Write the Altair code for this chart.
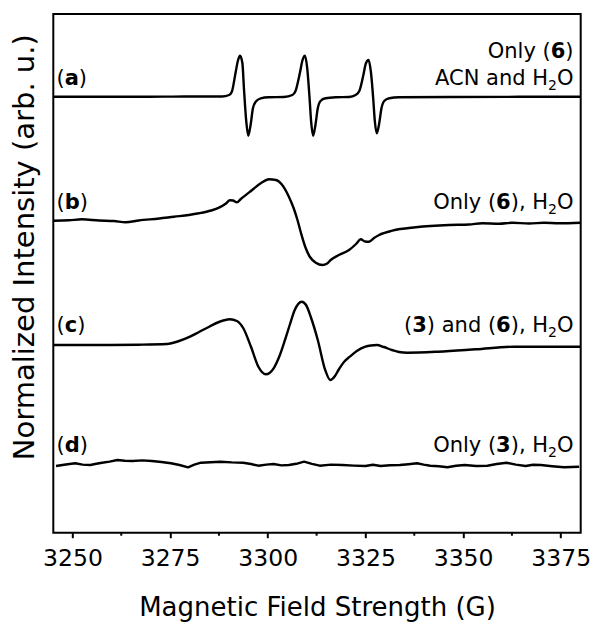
import altair as alt
import pandas as pd

# ---------------- data ----------------
# Magnetic field (G) and normalized signal (arb. u., relative to each trace baseline)
FIELD_A = [3245.1, 3269.6, 3282.4, 3288.3, 3290.1, 3290.8, 3291.8, 3292.4, 3292.9, 3293.5,
           3293.9, 3294.5, 3295.0, 3295.6, 3296.2, 3296.9, 3298.2, 3300.3, 3304.1, 3306.3,
           3307.1, 3308.2, 3308.9, 3309.5, 3310.1, 3310.7, 3311.1, 3311.6, 3312.2, 3312.8,
           3313.5, 3314.8, 3317.4, 3320.8, 3322.5, 3323.4, 3324.5, 3325.1, 3325.8, 3326.4,
           3327.0, 3327.4, 3327.9, 3328.5, 3329.1, 3329.8, 3331.1, 3333.6, 3346.4, 3364.3, 3380.1]
SIGNAL_A = [0.0, 0.0, 0.002, 0.002, 0.017, 0.05, 0.25, 0.367, 0.41, 0.337,
            0.084, -0.25, -0.39, -0.283, -0.116, -0.05, -0.016, -0.006, -0.003, 0.017,
            0.057, 0.234, 0.367, 0.41, 0.284, -0.016, -0.25, -0.39, -0.283, -0.116,
            -0.043, -0.016, -0.006, -0.003, 0.017, 0.054, 0.222, 0.332, 0.367, 0.247,
            -0.023, -0.243, -0.366, -0.273, -0.116, -0.043, -0.016, -0.006, -0.003, -0.001, -0.001]

FIELD_B = [3245.1, 3249.1, 3252.4, 3256.8, 3260.6, 3263.6, 3267.0, 3272.2, 3276.0, 3279.8,
           3282.4, 3285.5, 3287.5, 3289.3, 3290.3, 3291.1, 3292.1, 3293.1, 3296.0, 3298.3,
           3300.3, 3302.1, 3303.6, 3305.4, 3306.7, 3307.6, 3308.5, 3309.7, 3310.8, 3312.3,
           3314.0, 3315.2, 3316.1, 3318.2, 3320.8, 3322.6, 3323.8, 3324.9, 3325.9, 3327.2,
           3328.5, 3331.9, 3337.9, 3346.4, 3351.5, 3354.9, 3359.2, 3362.6, 3366.9, 3370.7,
           3374.5, 3380.1]
SIGNAL_B = [0.0, 0.004, 0.014, 0.002, -0.003, -0.016, 0.002, 0.022, 0.04, 0.057,
            0.074, 0.102, 0.13, 0.172, 0.204, 0.202, 0.184, 0.217, 0.307, 0.377,
            0.414, 0.407, 0.362, 0.24, 0.117, 0.007, -0.123, -0.273, -0.363, -0.42,
            -0.443, -0.428, -0.393, -0.343, -0.293, -0.233, -0.186, -0.208, -0.21, -0.173,
            -0.143, -0.1, -0.066, -0.043, -0.038, -0.026, -0.031, -0.021, -0.028, -0.02,
            -0.026, -0.021]

FIELD_C = [3245.1, 3256.8, 3267.0, 3274.2, 3277.3, 3280.1, 3282.4, 3285.0, 3287.5, 3290.3,
           3292.1, 3293.7, 3295.7, 3297.6, 3299.5, 3301.5, 3302.9, 3304.4, 3305.7, 3306.9,
           3308.7, 3309.8, 3311.1, 3312.8, 3314.7, 3316.0, 3317.2, 3318.1, 3319.5, 3321.0,
           3322.8, 3325.0, 3326.4, 3327.9, 3329.7, 3331.8, 3333.6, 3335.7, 3343.6, 3353.3,
           3363.0, 3380.1]
SIGNAL_C = [0.0, 0.0, 0.003, 0.01, 0.04, 0.083, 0.13, 0.183, 0.23, 0.257,
            0.24, 0.17, -0.017, -0.217, -0.293, -0.233, -0.12, 0.05, 0.21, 0.35,
            0.433, 0.40, 0.27, 0.05, -0.25, -0.35, -0.31, -0.25, -0.17, -0.117,
            -0.06, -0.017, -0.005, 0.0, -0.02, -0.05, -0.07, -0.077, -0.067, -0.043,
            -0.017, -0.017]

FIELD_D = [3245.8, 3248.3, 3250.7, 3252.6, 3254.6, 3256.1, 3257.6, 3259.5, 3261.5, 3263.4,
           3265.4, 3267.9, 3270.3, 3272.8, 3275.2, 3277.4, 3279.6, 3281.2, 3282.9, 3285.4,
           3287.9, 3290.8, 3293.7, 3295.7, 3297.6, 3299.6, 3301.5, 3303.5, 3305.4, 3307.3,
           3309.3, 3311.3, 3313.3, 3316.2, 3319.1, 3322.0, 3325.0, 3326.9, 3328.9, 3331.3,
           3333.8, 3336.0, 3338.2, 3339.9, 3341.6, 3343.8, 3346.0, 3348.2, 3350.4, 3353.3,
           3356.2, 3358.6, 3361.1, 3363.5, 3366.0, 3367.9, 3369.9, 3372.8, 3375.8, 3379.7]
SIGNAL_D = [-0.01, 0.005, 0.017, 0.004, 0.0, 0.012, 0.023, 0.034, 0.05, 0.043,
            0.04, 0.046, 0.04, 0.03, 0.017, 0.0, -0.023, 0.003, 0.023, 0.028,
            0.033, 0.026, 0.023, 0.01, -0.007, 0.004, 0.01, -0.004, 0.0, 0.012,
            0.033, 0.012, -0.007, 0.004, 0.0, -0.006, -0.01, 0.002, -0.01, -0.002,
            0.0, 0.008, 0.017, 0.004, -0.007, -0.012, -0.023, -0.008, 0.0, -0.01,
            -0.007, 0.01, 0.023, 0.004, -0.01, 0.002, 0.0, -0.012, -0.023, -0.017]

TRACES = ["a", "b", "c", "d"]
OFFSETS = [4.36, 3.12, 1.877, 0.677]   # vertical stacking offsets (arb. u.)

X_TICKS = [3250, 3275, 3300, 3325, 3350, 3375]
X_MINOR = [3262.5, 3287.5, 3312.5, 3337.5, 3362.5]

X_TITLE = "Magnetic Field Strength (G)"
Y_TITLE = "Normalized Intensity (arb. u.)"

# label pieces: (text, style) with style n = normal, b = bold, s = subscript
RIGHT_LABELS = [
    [("Only (", "n"), ("6", "b"), (")", "n")],
    [("ACN and H", "n"), ("2", "s"), ("O", "n")],
    [("Only (", "n"), ("6", "b"), ("), H", "n"), ("2", "s"), ("O", "n")],
    [("(", "n"), ("3", "b"), (") and (", "n"), ("6", "b"), ("), H", "n"), ("2", "s"), ("O", "n")],
    [("Only (", "n"), ("3", "b"), ("), H", "n"), ("2", "s"), ("O", "n")],
]

# ---------------- layout ----------------
X_DOMAIN = [3245.1, 3380.1]
Y_DOMAIN = [0, 5.187]
W, H = 527.4, 518.7
FONT = "DejaVu Sans"
LABEL_SIZE = 21
SUB_SIZE = 14
LEFT_X = 3.2
RIGHT_X = 520.2
LEFT_BASE = [71, 195, 318, 438]
RIGHT_BASE = [44, 71, 195, 318, 438]

REG_W = {' ': .318, '(': .390, ')': .390, ',': .318, 'O': .787, 'n': .634, 'l': .278,
         'y': .592, 'H': .752, 'A': .684, 'C': .698, 'N': .748, 'a': .613, 'd': .635,
         '2': .636, '3': .636, '6': .636}
BOLD_W = {'a': .675, 'b': .716, 'c': .593, 'd': .716, '3': .696, '6': .696}


def seg_width(text, style):
    if style == "b":
        return sum(BOLD_W[c] for c in text) * LABEL_SIZE
    if style == "s":
        return sum(REG_W[c] for c in text) * SUB_SIZE
    return sum(REG_W[c] for c in text) * LABEL_SIZE


ONE = pd.DataFrame({"k": [0]})


def text_piece(text, style, x, y, align):
    size = SUB_SIZE if style == "s" else LABEL_SIZE
    weight = "bold" if style == "b" else "normal"
    dy = 5 if style == "s" else 0
    return alt.Chart(ONE).mark_text(
        text=text, align=align, baseline="alphabetic", font=FONT, fontSize=size,
        fontWeight=weight, color="black", dy=dy
    ).encode(x=alt.value(x), y=alt.value(y))


# ---------------- build data ----------------
fields = [FIELD_A, FIELD_B, FIELD_C, FIELD_D]
signals = [SIGNAL_A, SIGNAL_B, SIGNAL_C, SIGNAL_D]
rows = []
for name, off, fx, sy in zip(TRACES, OFFSETS, fields, signals):
    for f, s in zip(fx, sy):
        rows.append({"trace": name, "field": f, "intensity": s + off})
df = pd.DataFrame(rows)

xscale = alt.Scale(domain=X_DOMAIN, nice=False, zero=False)
yscale = alt.Scale(domain=Y_DOMAIN, nice=False, zero=False)

X_AXIS = alt.Axis(values=X_TICKS, format="d", grid=False, domain=False,
                  ticks=True, tickSize=5, tickWidth=2, tickColor="black",
                  labelFont=FONT, labelFontSize=23.5, labelColor="black",
                  labelPadding=9, titleFont=FONT, titleFontSize=26,
                  titleFontWeight="normal", titleColor="black",
                  titleBaseline="alphabetic", titleY=83)
Y_AXIS = alt.Axis(grid=False, domain=False, ticks=False, labels=False,
                  titleFont=FONT, titleFontSize=29, titleFontWeight="normal",
                  titleColor="black", titleAngle=270, titleAlign="center",
                  titleBaseline="alphabetic", titleX=-20, titleY=232.7)

smooth = alt.Chart(df).transform_filter(alt.datum.trace != "d").mark_line(
    color="black", strokeWidth=2.4, interpolate="monotone", strokeJoin="round", clip=True
).encode(
    x=alt.X("field:Q", scale=xscale, title=X_TITLE, axis=X_AXIS),
    y=alt.Y("intensity:Q", scale=yscale, title=Y_TITLE, axis=Y_AXIS),
    detail="trace:N",
)

noisy = alt.Chart(df).transform_filter(alt.datum.trace == "d").mark_line(
    color="black", strokeWidth=2.4, interpolate="linear", strokeJoin="round", clip=True
).encode(
    x=alt.X("field:Q", scale=xscale, title=X_TITLE, axis=X_AXIS),
    y=alt.Y("intensity:Q", scale=yscale, title=Y_TITLE, axis=Y_AXIS),
)

minor = alt.Chart(pd.DataFrame({"field": X_MINOR})).mark_rule(
    color="black", strokeWidth=2
).encode(
    x=alt.X("field:Q", scale=xscale, title=X_TITLE, axis=X_AXIS),
    y=alt.value(H), y2=alt.value(H + 3),
)

layers = [smooth, noisy, minor]

# left labels (a)-(d)
for name, base in zip(TRACES, LEFT_BASE):
    x = LEFT_X
    for text, style in [("(", "n"), (name, "b"), (")", "n")]:
        layers.append(text_piece(text, style, x, base, "left"))
        x += seg_width(text, style)

# right labels
for pieces, base in zip(RIGHT_LABELS, RIGHT_BASE):
    x = RIGHT_X
    for text, style in reversed(pieces):
        layers.append(text_piece(text, style, x, base, "right"))
        x -= seg_width(text, style)

chart = alt.layer(*layers).resolve_axis(x="shared", y="shared").properties(
    width=W, height=H,
    padding={"left": 45.3, "top": 6, "right": 9.3, "bottom": 91.3},
    autosize=alt.AutoSizeParams(type="none"),
    background="white",
).configure_view(stroke="black", strokeWidth=2)

chart.save("out.html", embed_options={"renderer": "svg", "actions": False})
